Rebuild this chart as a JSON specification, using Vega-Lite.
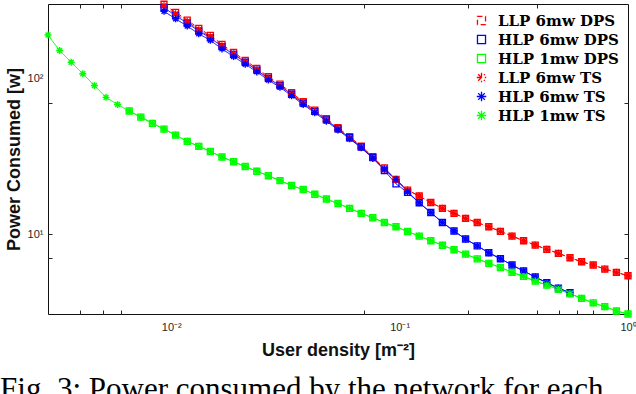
{
"$schema": "https://vega.github.io/schema/vega-lite/v6.json",
"width": 580, "height": 310,
"autosize": "none",
"padding": {"left": 48, "top": 4, "right": 8, "bottom": 80},
"background": "white",
"config": {"view": {"stroke": "#111", "strokeWidth": 1}, "font": "Liberation Sans"},
"title": {"text": "Fig. 3:  Power consumed by the network for each", "orient": "bottom", "anchor": "start", "frame": "bounds", "font": "Liberation Serif", "fontSize": 31, "fontWeight": "normal", "color": "#000", "offset": 16, "dx": -5},
"datasets": {"d": [
{"s":"LLP 6mw DPS","x":0.00929,"y":300},{"s":"LLP 6mw DPS","x":0.01044,"y":266.0},{"s":"LLP 6mw DPS","x":0.01174,"y":237.3},{"s":"LLP 6mw DPS","x":0.01319,"y":210.0},{"s":"LLP 6mw DPS","x":0.01483,"y":189.3},{"s":"LLP 6mw DPS","x":0.01667,"y":165.7},{"s":"LLP 6mw DPS","x":0.01874,"y":147.2},{"s":"LLP 6mw DPS","x":0.02107,"y":130.7},{"s":"LLP 6mw DPS","x":0.02368,"y":116.1},{"s":"LLP 6mw DPS","x":0.02662,"y":102.5},{"s":"LLP 6mw DPS","x":0.02992,"y":92.0},{"s":"LLP 6mw DPS","x":0.03363,"y":80.9},{"s":"LLP 6mw DPS","x":0.03781,"y":70.8},{"s":"LLP 6mw DPS","x":0.0425,"y":62.6},{"s":"LLP 6mw DPS","x":0.04777,"y":55.07},{"s":"LLP 6mw DPS","x":0.0537,"y":48.2},{"s":"LLP 6mw DPS","x":0.06037,"y":42.19},{"s":"LLP 6mw DPS","x":0.06786,"y":36.76},{"s":"LLP 6mw DPS","x":0.07628,"y":31.38},{"s":"LLP 6mw DPS","x":0.08574,"y":26.55},{"s":"LLP 6mw DPS","x":0.09638,"y":22.45},{"s":"LLP 6mw DPS","x":0.1083,"y":19.16},{"s":"LLP 6mw DPS","x":0.1218,"y":17.54},{"s":"LLP 6mw DPS","x":0.1369,"y":15.93},{"s":"LLP 6mw DPS","x":0.1539,"y":14.62},{"s":"LLP 6mw DPS","x":0.173,"y":13.58},{"s":"LLP 6mw DPS","x":0.1944,"y":12.61},{"s":"LLP 6mw DPS","x":0.2186,"y":11.85},{"s":"LLP 6mw DPS","x":0.2457,"y":11.13},{"s":"LLP 6mw DPS","x":0.2762,"y":10.4},{"s":"LLP 6mw DPS","x":0.3105,"y":9.7},{"s":"LLP 6mw DPS","x":0.349,"y":9.05},{"s":"LLP 6mw DPS","x":0.3923,"y":8.49},{"s":"LLP 6mw DPS","x":0.441,"y":7.97},{"s":"LLP 6mw DPS","x":0.4957,"y":7.51},{"s":"LLP 6mw DPS","x":0.5572,"y":7.04},{"s":"LLP 6mw DPS","x":0.6263,"y":6.63},{"s":"LLP 6mw DPS","x":0.704,"y":6.32},{"s":"LLP 6mw DPS","x":0.7914,"y":5.95},{"s":"LLP 6mw DPS","x":0.8897,"y":5.67},{"s":"LLP 6mw DPS","x":1,"y":5.39},
{"s":"HLP 6mw DPS","x":0.00929,"y":284.9},{"s":"HLP 6mw DPS","x":0.01044,"y":253.5},{"s":"HLP 6mw DPS","x":0.01174,"y":227.0},{"s":"HLP 6mw DPS","x":0.01319,"y":201.6},{"s":"HLP 6mw DPS","x":0.01483,"y":182.4},{"s":"HLP 6mw DPS","x":0.01667,"y":160.2},{"s":"HLP 6mw DPS","x":0.01874,"y":142.7},{"s":"HLP 6mw DPS","x":0.02107,"y":127.1},{"s":"HLP 6mw DPS","x":0.02368,"y":113.1},{"s":"HLP 6mw DPS","x":0.02662,"y":100.0},{"s":"HLP 6mw DPS","x":0.02992,"y":89.85},{"s":"HLP 6mw DPS","x":0.03363,"y":79.1},{"s":"HLP 6mw DPS","x":0.03781,"y":69.35},{"s":"HLP 6mw DPS","x":0.0425,"y":61.4},{"s":"HLP 6mw DPS","x":0.04777,"y":54.1},{"s":"HLP 6mw DPS","x":0.0537,"y":47.42},{"s":"HLP 6mw DPS","x":0.06037,"y":41.57},{"s":"HLP 6mw DPS","x":0.06786,"y":36.27},{"s":"HLP 6mw DPS","x":0.07628,"y":31.03},{"s":"HLP 6mw DPS","x":0.08574,"y":25.6},{"s":"HLP 6mw DPS","x":0.09638,"y":21.0},{"s":"HLP 6mw DPS","x":0.1083,"y":18.5},{"s":"HLP 6mw DPS","x":0.1218,"y":15.88},{"s":"HLP 6mw DPS","x":0.1369,"y":13.74},{"s":"HLP 6mw DPS","x":0.1539,"y":11.85},{"s":"HLP 6mw DPS","x":0.173,"y":10.45},{"s":"HLP 6mw DPS","x":0.1944,"y":9.28},{"s":"HLP 6mw DPS","x":0.2186,"y":8.39},{"s":"HLP 6mw DPS","x":0.2457,"y":7.58},{"s":"HLP 6mw DPS","x":0.2762,"y":6.93},{"s":"HLP 6mw DPS","x":0.3105,"y":6.32},{"s":"HLP 6mw DPS","x":0.349,"y":5.78},{"s":"HLP 6mw DPS","x":0.3923,"y":5.29},{"s":"HLP 6mw DPS","x":0.441,"y":4.86},{"s":"HLP 6mw DPS","x":0.4957,"y":4.49},{"s":"HLP 6mw DPS","x":0.5572,"y":4.19},
{"s":"HLP 1mw DPS","x":0.00654,"y":61.72},{"s":"HLP 1mw DPS","x":0.007352,"y":56.47},{"s":"HLP 1mw DPS","x":0.008264,"y":51.44},{"s":"HLP 1mw DPS","x":0.00929,"y":47.28},{"s":"HLP 1mw DPS","x":0.01044,"y":43.26},{"s":"HLP 1mw DPS","x":0.01174,"y":39.4},{"s":"HLP 1mw DPS","x":0.01319,"y":36.6},{"s":"HLP 1mw DPS","x":0.01483,"y":33.89},{"s":"HLP 1mw DPS","x":0.01667,"y":31.24},{"s":"HLP 1mw DPS","x":0.01874,"y":29.14},{"s":"HLP 1mw DPS","x":0.02107,"y":27.14},{"s":"HLP 1mw DPS","x":0.02368,"y":25.31},{"s":"HLP 1mw DPS","x":0.02662,"y":23.68},{"s":"HLP 1mw DPS","x":0.02992,"y":22.06},{"s":"HLP 1mw DPS","x":0.03363,"y":20.49},{"s":"HLP 1mw DPS","x":0.03781,"y":19.31},{"s":"HLP 1mw DPS","x":0.0425,"y":18.01},{"s":"HLP 1mw DPS","x":0.04777,"y":16.78},{"s":"HLP 1mw DPS","x":0.0537,"y":15.7},{"s":"HLP 1mw DPS","x":0.06037,"y":14.62},{"s":"HLP 1mw DPS","x":0.06786,"y":13.58},{"s":"HLP 1mw DPS","x":0.07628,"y":12.72},{"s":"HLP 1mw DPS","x":0.08574,"y":11.85},{"s":"HLP 1mw DPS","x":0.09638,"y":11.13},{"s":"HLP 1mw DPS","x":0.1083,"y":10.37},{"s":"HLP 1mw DPS","x":0.1218,"y":9.7},{"s":"HLP 1mw DPS","x":0.1369,"y":9.05},{"s":"HLP 1mw DPS","x":0.1539,"y":8.47},{"s":"HLP 1mw DPS","x":0.173,"y":7.92},{"s":"HLP 1mw DPS","x":0.1944,"y":7.43},{"s":"HLP 1mw DPS","x":0.2186,"y":6.92},{"s":"HLP 1mw DPS","x":0.2457,"y":6.48},{"s":"HLP 1mw DPS","x":0.2762,"y":6.09},{"s":"HLP 1mw DPS","x":0.3105,"y":5.67},{"s":"HLP 1mw DPS","x":0.349,"y":5.34},{"s":"HLP 1mw DPS","x":0.3923,"y":4.98},{"s":"HLP 1mw DPS","x":0.441,"y":4.7},{"s":"HLP 1mw DPS","x":0.4957,"y":4.41},{"s":"HLP 1mw DPS","x":0.5572,"y":4.13},{"s":"HLP 1mw DPS","x":0.6263,"y":3.86},{"s":"HLP 1mw DPS","x":0.704,"y":3.61},{"s":"HLP 1mw DPS","x":0.7914,"y":3.41},{"s":"HLP 1mw DPS","x":0.8897,"y":3.2},{"s":"HLP 1mw DPS","x":1,"y":3.06},
{"s":"LLP 6mw TS","x":0.00929,"y":293.4},{"s":"LLP 6mw TS","x":0.01044,"y":260.1},{"s":"LLP 6mw TS","x":0.01174,"y":232.1},{"s":"LLP 6mw TS","x":0.01319,"y":205.4},{"s":"LLP 6mw TS","x":0.01483,"y":185.1},{"s":"LLP 6mw TS","x":0.01667,"y":162.1},{"s":"LLP 6mw TS","x":0.01874,"y":144.0},{"s":"LLP 6mw TS","x":0.02107,"y":127.8},{"s":"LLP 6mw TS","x":0.02368,"y":113.5},{"s":"LLP 6mw TS","x":0.02662,"y":100.2},{"s":"LLP 6mw TS","x":0.02992,"y":90.0},{"s":"LLP 6mw TS","x":0.03363,"y":79.1},{"s":"LLP 6mw TS","x":0.03781,"y":69.2},{"s":"LLP 6mw TS","x":0.0425,"y":61.2},{"s":"LLP 6mw TS","x":0.04777,"y":53.86},{"s":"LLP 6mw TS","x":0.0537,"y":47.14},{"s":"LLP 6mw TS","x":0.06037,"y":41.26},{"s":"LLP 6mw TS","x":0.06786,"y":35.95},{"s":"LLP 6mw TS","x":0.07628,"y":30.69},{"s":"LLP 6mw TS","x":0.08574,"y":26.0},{"s":"LLP 6mw TS","x":0.09638,"y":22.2},{"s":"LLP 6mw TS","x":0.1083,"y":19.16},{"s":"LLP 6mw TS","x":0.1218,"y":17.54},{"s":"LLP 6mw TS","x":0.1369,"y":15.93},{"s":"LLP 6mw TS","x":0.1539,"y":14.62},{"s":"LLP 6mw TS","x":0.173,"y":13.58},{"s":"LLP 6mw TS","x":0.1944,"y":12.61},{"s":"LLP 6mw TS","x":0.2186,"y":11.85},{"s":"LLP 6mw TS","x":0.2457,"y":11.13},{"s":"LLP 6mw TS","x":0.2762,"y":10.4},{"s":"LLP 6mw TS","x":0.3105,"y":9.7},{"s":"LLP 6mw TS","x":0.349,"y":9.05},{"s":"LLP 6mw TS","x":0.3923,"y":8.49},{"s":"LLP 6mw TS","x":0.441,"y":7.97},{"s":"LLP 6mw TS","x":0.4957,"y":7.51},{"s":"LLP 6mw TS","x":0.5572,"y":7.04},{"s":"LLP 6mw TS","x":0.6263,"y":6.63},{"s":"LLP 6mw TS","x":0.704,"y":6.32},{"s":"LLP 6mw TS","x":0.7914,"y":5.95},{"s":"LLP 6mw TS","x":0.8897,"y":5.67},{"s":"LLP 6mw TS","x":1,"y":5.39},
{"s":"HLP 6mw TS","x":0.00929,"y":270.5},{"s":"HLP 6mw TS","x":0.01044,"y":241.6},{"s":"HLP 6mw TS","x":0.01174,"y":217.2},{"s":"HLP 6mw TS","x":0.01319,"y":193.6},{"s":"HLP 6mw TS","x":0.01483,"y":175.8},{"s":"HLP 6mw TS","x":0.01667,"y":154.8},{"s":"HLP 6mw TS","x":0.01874,"y":138.3},{"s":"HLP 6mw TS","x":0.02107,"y":123.5},{"s":"HLP 6mw TS","x":0.02368,"y":110.2},{"s":"HLP 6mw TS","x":0.02662,"y":97.6},{"s":"HLP 6mw TS","x":0.02992,"y":87.7},{"s":"HLP 6mw TS","x":0.03363,"y":77.4},{"s":"HLP 6mw TS","x":0.03781,"y":67.9},{"s":"HLP 6mw TS","x":0.0425,"y":60.2},{"s":"HLP 6mw TS","x":0.04777,"y":53.15},{"s":"HLP 6mw TS","x":0.0537,"y":46.65},{"s":"HLP 6mw TS","x":0.06037,"y":40.96},{"s":"HLP 6mw TS","x":0.06786,"y":35.79},{"s":"HLP 6mw TS","x":0.07628,"y":30.69},{"s":"HLP 6mw TS","x":0.08574,"y":26.16},{"s":"HLP 6mw TS","x":0.09638,"y":22.45},{"s":"HLP 6mw TS","x":0.1083,"y":18.69},{"s":"HLP 6mw TS","x":0.1218,"y":15.88},{"s":"HLP 6mw TS","x":0.1369,"y":13.74},{"s":"HLP 6mw TS","x":0.1539,"y":11.85},{"s":"HLP 6mw TS","x":0.173,"y":10.45},{"s":"HLP 6mw TS","x":0.1944,"y":9.28},{"s":"HLP 6mw TS","x":0.2186,"y":8.39},{"s":"HLP 6mw TS","x":0.2457,"y":7.58},{"s":"HLP 6mw TS","x":0.2762,"y":6.93},{"s":"HLP 6mw TS","x":0.3105,"y":6.32},{"s":"HLP 6mw TS","x":0.349,"y":5.78},{"s":"HLP 6mw TS","x":0.3923,"y":5.29},{"s":"HLP 6mw TS","x":0.441,"y":4.86},{"s":"HLP 6mw TS","x":0.4957,"y":4.49},{"s":"HLP 6mw TS","x":0.5572,"y":4.19},
{"s":"HLP 1mw TS","x":0.002884,"y":190.1},{"s":"HLP 1mw TS","x":0.003242,"y":151.1},{"s":"HLP 1mw TS","x":0.003645,"y":127.1},{"s":"HLP 1mw TS","x":0.004097,"y":107.2},{"s":"HLP 1mw TS","x":0.004605,"y":90.0},{"s":"HLP 1mw TS","x":0.005176,"y":75.6},{"s":"HLP 1mw TS","x":0.005818,"y":67.96},{"s":"HLP 1mw TS","x":0.00654,"y":61.72},{"s":"HLP 1mw TS","x":0.007352,"y":56.47},{"s":"HLP 1mw TS","x":0.008264,"y":51.44},{"s":"HLP 1mw TS","x":0.00929,"y":47.28},{"s":"HLP 1mw TS","x":0.01044,"y":43.26},{"s":"HLP 1mw TS","x":0.01174,"y":39.4},{"s":"HLP 1mw TS","x":0.01319,"y":36.6},{"s":"HLP 1mw TS","x":0.01483,"y":33.89},{"s":"HLP 1mw TS","x":0.01667,"y":31.24},{"s":"HLP 1mw TS","x":0.01874,"y":29.14},{"s":"HLP 1mw TS","x":0.02107,"y":27.14},{"s":"HLP 1mw TS","x":0.02368,"y":25.31},{"s":"HLP 1mw TS","x":0.02662,"y":23.68},{"s":"HLP 1mw TS","x":0.02992,"y":22.06},{"s":"HLP 1mw TS","x":0.03363,"y":20.49},{"s":"HLP 1mw TS","x":0.03781,"y":19.31},{"s":"HLP 1mw TS","x":0.0425,"y":18.01},{"s":"HLP 1mw TS","x":0.04777,"y":16.78},{"s":"HLP 1mw TS","x":0.0537,"y":15.7},{"s":"HLP 1mw TS","x":0.06037,"y":14.62},{"s":"HLP 1mw TS","x":0.06786,"y":13.58},{"s":"HLP 1mw TS","x":0.07628,"y":12.72},{"s":"HLP 1mw TS","x":0.08574,"y":11.85},{"s":"HLP 1mw TS","x":0.09638,"y":11.13},{"s":"HLP 1mw TS","x":0.1083,"y":10.37},{"s":"HLP 1mw TS","x":0.1218,"y":9.7},{"s":"HLP 1mw TS","x":0.1369,"y":9.05},{"s":"HLP 1mw TS","x":0.1539,"y":8.47},{"s":"HLP 1mw TS","x":0.173,"y":7.92},{"s":"HLP 1mw TS","x":0.1944,"y":7.43},{"s":"HLP 1mw TS","x":0.2186,"y":6.92},{"s":"HLP 1mw TS","x":0.2457,"y":6.48},{"s":"HLP 1mw TS","x":0.2762,"y":6.09},{"s":"HLP 1mw TS","x":0.3105,"y":5.67},{"s":"HLP 1mw TS","x":0.349,"y":5.34},{"s":"HLP 1mw TS","x":0.3923,"y":4.98},{"s":"HLP 1mw TS","x":0.441,"y":4.7},{"s":"HLP 1mw TS","x":0.4957,"y":4.41},{"s":"HLP 1mw TS","x":0.5572,"y":4.13},{"s":"HLP 1mw TS","x":0.6263,"y":3.86},{"s":"HLP 1mw TS","x":0.704,"y":3.61},{"s":"HLP 1mw TS","x":0.7914,"y":3.41},{"s":"HLP 1mw TS","x":0.8897,"y":3.2},{"s":"HLP 1mw TS","x":1,"y":3.06}
]},
"data": {"name": "d"},
"resolve": {"axis": {"x": "independent", "y": "independent"}},
"layer": [
{
"mark": {"type": "line", "strokeWidth": 1, "clip": false},
"encoding": {
"x": {"field": "x", "type": "quantitative", "scale": {"type": "log", "domain": [0.002884, 1], "nice": false},
 "axis": {"orient": "bottom", "values": [0.004,0.005,0.006,0.01,0.07,0.1,0.2,0.4,0.5,0.6,0.7,1], "labelExpr": "datum.value==0.01 ? '10⁻²' : datum.value==0.1 ? '10⁻¹' : datum.value==1 ? '10⁰' : ''", "tickColor": {"condition": {"test": "datum.value==0.01 || datum.value==0.1 || datum.value==1", "value": "transparent"}, "value": "#262626"}, "tickSize": -4, "domain": false, "grid": false, "labelFont": "Liberation Sans", "labelFontSize": 11, "labelColor": "#262626", "labelPadding": 11, "labelFlush": false, "labelOverlap": false, "title": "User density [m⁻²]", "titleFont": "Liberation Sans", "titleFontSize": 18, "titleFontWeight": "bold", "titleColor": "#111", "titlePadding": 9}},
"y": {"field": "y", "type": "quantitative", "scale": {"type": "log", "domain": [3.06, 301], "nice": false},
 "axis": {"orient": "left", "values": [7,10,70,100], "labelExpr": "datum.value==10 ? '10¹' : datum.value==100 ? '10²' : ''", "tickColor": {"condition": {"test": "datum.value==100", "value": "transparent"}, "value": "#262626"}, "tickSize": -4, "domain": false, "grid": false, "labelFont": "Liberation Sans", "labelFontSize": 11, "labelColor": "#262626", "labelPadding": 9, "labelOverlap": false, "title": "Power Consumed [w]", "titleFont": "Liberation Sans", "titleFontSize": 18, "titleFontWeight": "bold", "titleColor": "#111", "titlePadding": 4}},
"color": {"field": "s", "type": "nominal", "scale": {"domain": ["LLP 6mw DPS","HLP 6mw DPS","HLP 1mw DPS","LLP 6mw TS","HLP 6mw TS","HLP 1mw TS"], "range": ["#ff0000","#0000ff","#00ff00","#ff0000","#0000ff","#00ff00"]},
 "legend": {"title": null, "orient": "top-right", "offset": 9, "padding": 0, "labelFont": "DejaVu Serif", "labelFontWeight": "bold", "labelFontSize": 15, "labelColor": "#000", "symbolSize": 90, "symbolStrokeWidth": 1.3, "symbolFillColor": "transparent", "labelOffset": 9, "rowPadding": 3}},
"strokeDash": {"field": "s", "type": "nominal", "scale": {"domain": ["LLP 6mw DPS","HLP 6mw DPS","HLP 1mw DPS","LLP 6mw TS","HLP 6mw TS","HLP 1mw TS"], "range": [[5,3],[1,0],[1,0],[5,3],[1,0],[1,0]]}, "legend": null}
}
},
{
"mark": {"type": "point", "filled": false, "strokeWidth": 1.4, "size": 49, "opacity": 1, "clip": false},
"encoding": {
"x": {"field": "x", "type": "quantitative", "axis": {"orient": "top", "values": [0.004,0.005,0.006,0.07,0.2,0.4], "labels": false, "domain": false, "grid": false, "tickSize": -4, "tickColor": "#262626", "title": null}},
"y": {"field": "y", "type": "quantitative", "axis": {"orient": "right", "values": [7,10,70], "labels": false, "domain": false, "grid": false, "tickSize": -4, "tickColor": "#262626", "title": null}},
"shape": {"field": "s", "type": "nominal", "scale": {"domain": ["LLP 6mw DPS","HLP 6mw DPS","HLP 1mw DPS","LLP 6mw TS","HLP 6mw TS","HLP 1mw TS"], "range": ["M-0.85,-0.85L0.85,-0.85L0.85,0.85L-0.85,0.85Z","M-0.85,-0.85L0.85,-0.85L0.85,0.85L-0.85,0.85Z","M-0.85,-0.85L0.85,-0.85L0.85,0.85L-0.85,0.85Z","M-1,0L1,0M0,-1L0,1M-0.7,-0.7L0.7,0.7M-0.7,0.7L0.7,-0.7","M-1,0L1,0M0,-1L0,1M-0.7,-0.7L0.7,0.7M-0.7,0.7L0.7,-0.7","M-1,0L1,0M0,-1L0,1M-0.7,-0.7L0.7,0.7M-0.7,0.7L0.7,-0.7"]}, "legend": null},
"color": {"field": "s", "type": "nominal"}
}
}
]
}
